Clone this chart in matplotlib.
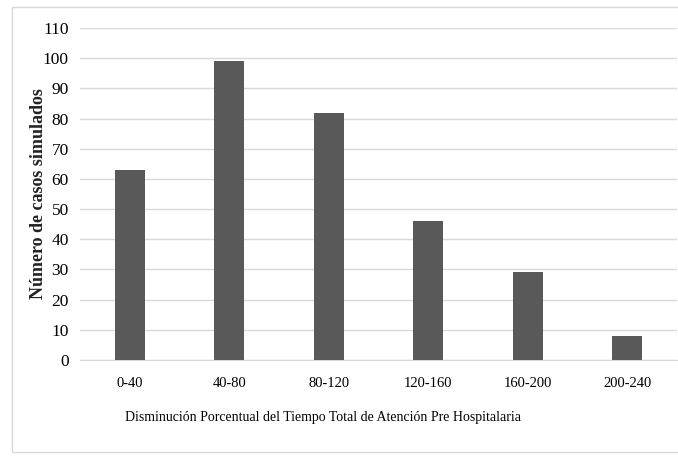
import matplotlib.pyplot as plt
from matplotlib.patches import Rectangle

categories = ["0-40", "40-80", "80-120", "120-160", "160-200", "200-240"]
casos = [63, 99, 82, 46, 29, 8]
y_ticks = list(range(0, 111, 10))

BAR_COLOR = "#595959"
GRID_COLOR = "#d9d9d9"

plt.rcParams["font.family"] = ["Liberation Serif", "DejaVu Serif"]

fig = plt.figure(figsize=(6.78, 4.63), dpi=100)
# light frame round the whole chart
fig.patches.append(Rectangle((12 / 678, 1 - 452 / 463), 670 / 678, 445 / 463,
                             transform=fig.transFigure, fill=False,
                             edgecolor="#d9d9d9", linewidth=1.0))

ax = fig.add_axes([80 / 678, 1 - 360 / 463, 597 / 678, 332 / 463])
x = list(range(len(categories)))
ax.bar(x, casos, width=0.30, color=BAR_COLOR, zorder=3)

ax.set_xlim(-0.5, len(categories) - 0.5)
ax.set_ylim(0, 110)
ax.set_yticks(y_ticks)
ax.set_xticks(x)
ax.set_xticklabels(categories, fontsize=10.5)
ax.tick_params(axis="y", labelsize=12.5, length=0, pad=8)
ax.tick_params(axis="x", length=0, pad=12)

ax.grid(axis="y", color=GRID_COLOR, linewidth=1.0, zorder=0)
for side in ["top", "right", "left"]:
    ax.spines[side].set_visible(False)
ax.spines["bottom"].set_color(GRID_COLOR)

ax.set_ylabel("Número de casos simulados", fontsize=13, fontweight="bold",
              labelpad=-3, color="#222222")
ax.set_xlabel("Disminución Porcentual del Tiempo Total de Atención Pre Hospitalaria",
              fontsize=10, labelpad=15, x=0.407)

fig.savefig("out.png", dpi=100)
